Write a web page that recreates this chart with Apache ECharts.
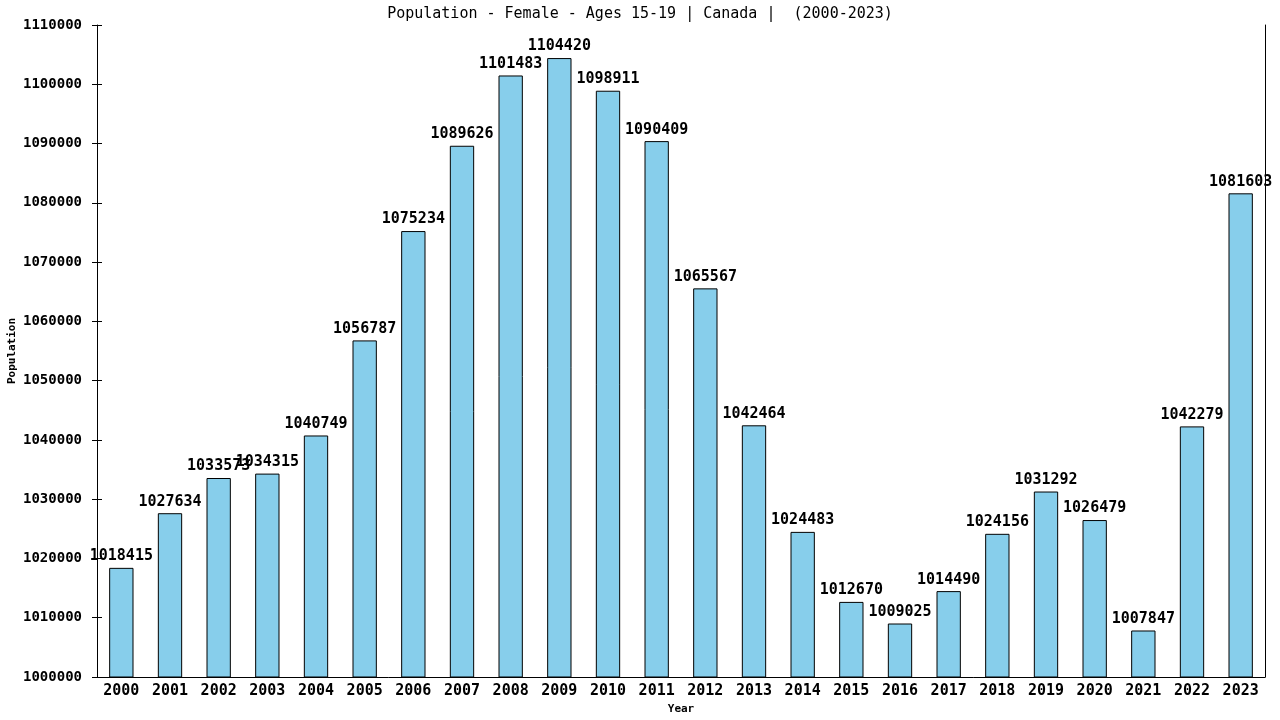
<!DOCTYPE html>
<html><head><meta charset="utf-8">
<script src="https://cdn.jsdelivr.net/npm/echarts@6/dist/echarts.min.js"></script>
<style>html,body{margin:0;padding:0;background:#fff}#c{width:1280px;height:720px}</style>
</head><body><div id="c"></div>
<script>
const years = ['2000','2001','2002','2003','2004','2005','2006','2007','2008','2009','2010','2011','2012','2013','2014','2015','2016','2017','2018','2019','2020','2021','2022','2023'];
const population = [1018415,1027634,1033573,1034315,1040749,1056787,1075234,1089626,1101483,1104420,1098911,1090409,1065567,1042464,1024483,1012670,1009025,1014490,1024156,1031292,1026479,1007847,1042279,1081603];
const yMin = 1000000, yMax = 1110000, yStep = 10000;
const titleText = 'Population - Female - Ages 15-19 | Canada |  (2000-2023)';
const yName = 'Population';
const font = 'DejaVu Sans Mono';
const chart = echarts.init(document.getElementById('c'));
chart.setOption({
  animation: false,
  backgroundColor: '#fff',
  title: { text: titleText, left: 'center', top: 2, textStyle: { fontFamily: font, fontSize: 15, fontWeight: 'normal', color: '#000' } },
  grid: { left: 97, right: 15, top: 25, bottom: 43, containLabel: false, outerBoundsMode: 'none' },
  graphic: [{
    type: 'text', x: 12, y: 351, rotation: Math.PI / 2,
    style: { text: yName, font: 'bold 11px "DejaVu Sans Mono"', align: 'center', verticalAlign: 'middle', fill: '#000' }
  }],
  xAxis: {
    type: 'category', data: years, name: 'Year', nameLocation: 'middle', nameGap: 27,
    nameTextStyle: { fontFamily: font, fontSize: 11, fontWeight: 'bold', color: '#000' },
    axisLine: { lineStyle: { color: '#000', width: 1 } }, axisTick: { show: false },
    axisLabel: { fontFamily: font, fontSize: 15, fontWeight: 'bold', color: '#000', margin: 7, interval: 0 }
  },
  yAxis: [
    { type: 'value', min: yMin, max: yMax, interval: yStep,
      axisLine: { show: true, lineStyle: { color: '#000' } }, axisTick: { show: true, length: 5, lineStyle: { color: '#000' } },
      axisLabel: { fontFamily: font, fontSize: 14, fontWeight: 'bold', color: '#000', margin: 15, formatter: v => String(v) }, splitLine: { show: false } },
    { type: 'value', min: yMin, max: yMax, interval: yStep, position: 'left', offset: 0,
      axisLine: { show: false }, axisTick: { show: true, inside: true, length: 5, lineStyle: { color: '#000' } },
      axisLabel: { show: false }, splitLine: { show: false } },
    { type: 'value', min: yMin, max: yMax, interval: yStep, position: 'right',
      axisLine: { show: true, lineStyle: { color: '#000' } }, axisTick: { show: false },
      axisLabel: { show: false }, splitLine: { show: false } }
  ],
  series: [{
    type: 'bar', data: population, yAxisIndex: 0, barWidth: '50%',
    itemStyle: { color: '#87CEEB', borderColor: '#000', borderWidth: 1 },
    label: { show: true, position: 'top', distance: 4, fontFamily: font, fontSize: 15, fontWeight: 'bold', color: '#000' }
  }]
});
</script></body></html>
